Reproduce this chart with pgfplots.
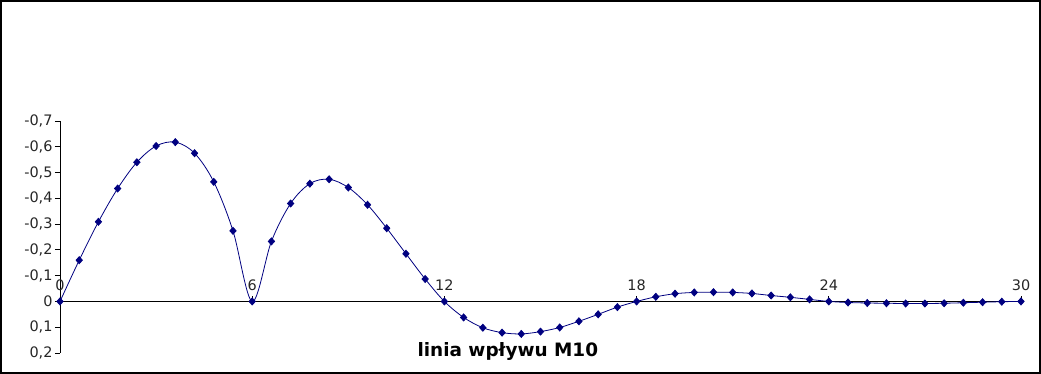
\documentclass[border=0pt]{standalone}
\usepackage{pgfplots}
\pgfplotsset{compat=1.18}
\usepackage{fontspec}
\setmainfont{DejaVu Sans}
\definecolor{navy}{RGB}{0,0,128}
\pgfplotstableread{
x y
0 0
0.6 -0.160
1.2 -0.309
1.8 -0.438
2.4 -0.540
3.0 -0.603
3.6 -0.618
4.2 -0.575
4.8 -0.464
5.4 -0.274
6.0 0
6.6 -0.233
7.2 -0.380
7.8 -0.457
8.4 -0.474
9.0 -0.442
9.6 -0.375
10.2 -0.284
10.8 -0.185
11.4 -0.087
12.0 0
12.6 0.062
13.2 0.102
13.8 0.121
14.4 0.126
15.0 0.117
15.6 0.101
16.2 0.077
16.8 0.050
17.4 0.022
18.0 0
18.6 -0.018
19.2 -0.030
19.8 -0.035
20.4 -0.036
21.0 -0.035
21.6 -0.031
22.2 -0.023
22.8 -0.016
23.4 -0.008
24.0 0
24.6 0.004
25.2 0.006
25.8 0.007
26.4 0.008
27.0 0.008
27.6 0.007
28.2 0.005
28.8 0.003
29.4 0.001
30.0 0
}\datatable
\begin{document}
\begin{tikzpicture}
\begin{axis}[
  at={(0,0)}, anchor=south west,
  scale only axis,
  width=961bp, height=232bp,
  xmin=0, xmax=30,
  ymin=-0.7, ymax=0.2,
  y dir=reverse,
  axis y line=left,
  axis x line=middle,
  hide obscured x ticks=false,
  hide obscured y ticks=false,
  axis line style={-, black, line width=0.8bp},
  ytick={-0.7,-0.6,-0.5,-0.4,-0.3,-0.2,-0.1,0,0.1,0.2},
  yticklabels={{-0,7},{-0,6},{-0,5},{-0,4},{-0,3},{-0,2},{-0,1},{0},{0,1},{0,2}},
  xtick={0,6,12,18,24,30},
  xticklabels={0,6,12,18,24,30},
  ticklabel style={font=\fontsize{14.5}{17}\selectfont, text=black!85},
  y tick label style={xshift=1bp},
  x tick label style={anchor=south, yshift=12bp},
  ytick style={black, line width=0.8bp},
  xtick style={black, line width=0.8bp},
  tick align=outside,
  major tick length=5bp,
  xlabel={linia wpływu M10},
  xlabel style={at={(axis description cs:0.466,0)}, anchor=base, yshift=-3bp, font=\fontsize{18.5}{20}\selectfont\bfseries},
  clip=false,
]
\addplot[navy, line width=0.8bp, smooth, tension=0.55, mark=diamond*, mark size=3.5bp, mark options={fill=navy, draw=navy, xscale=1.2}] table[x=x, y=y] {\datatable};
\end{axis}
\pgfresetboundingbox
\useasboundingbox (-60bp,-21bp) rectangle (981bp,353bp);
\draw[line width=2bp] (-59bp,-20bp) rectangle (980bp,352bp);
\end{tikzpicture}
\end{document}
